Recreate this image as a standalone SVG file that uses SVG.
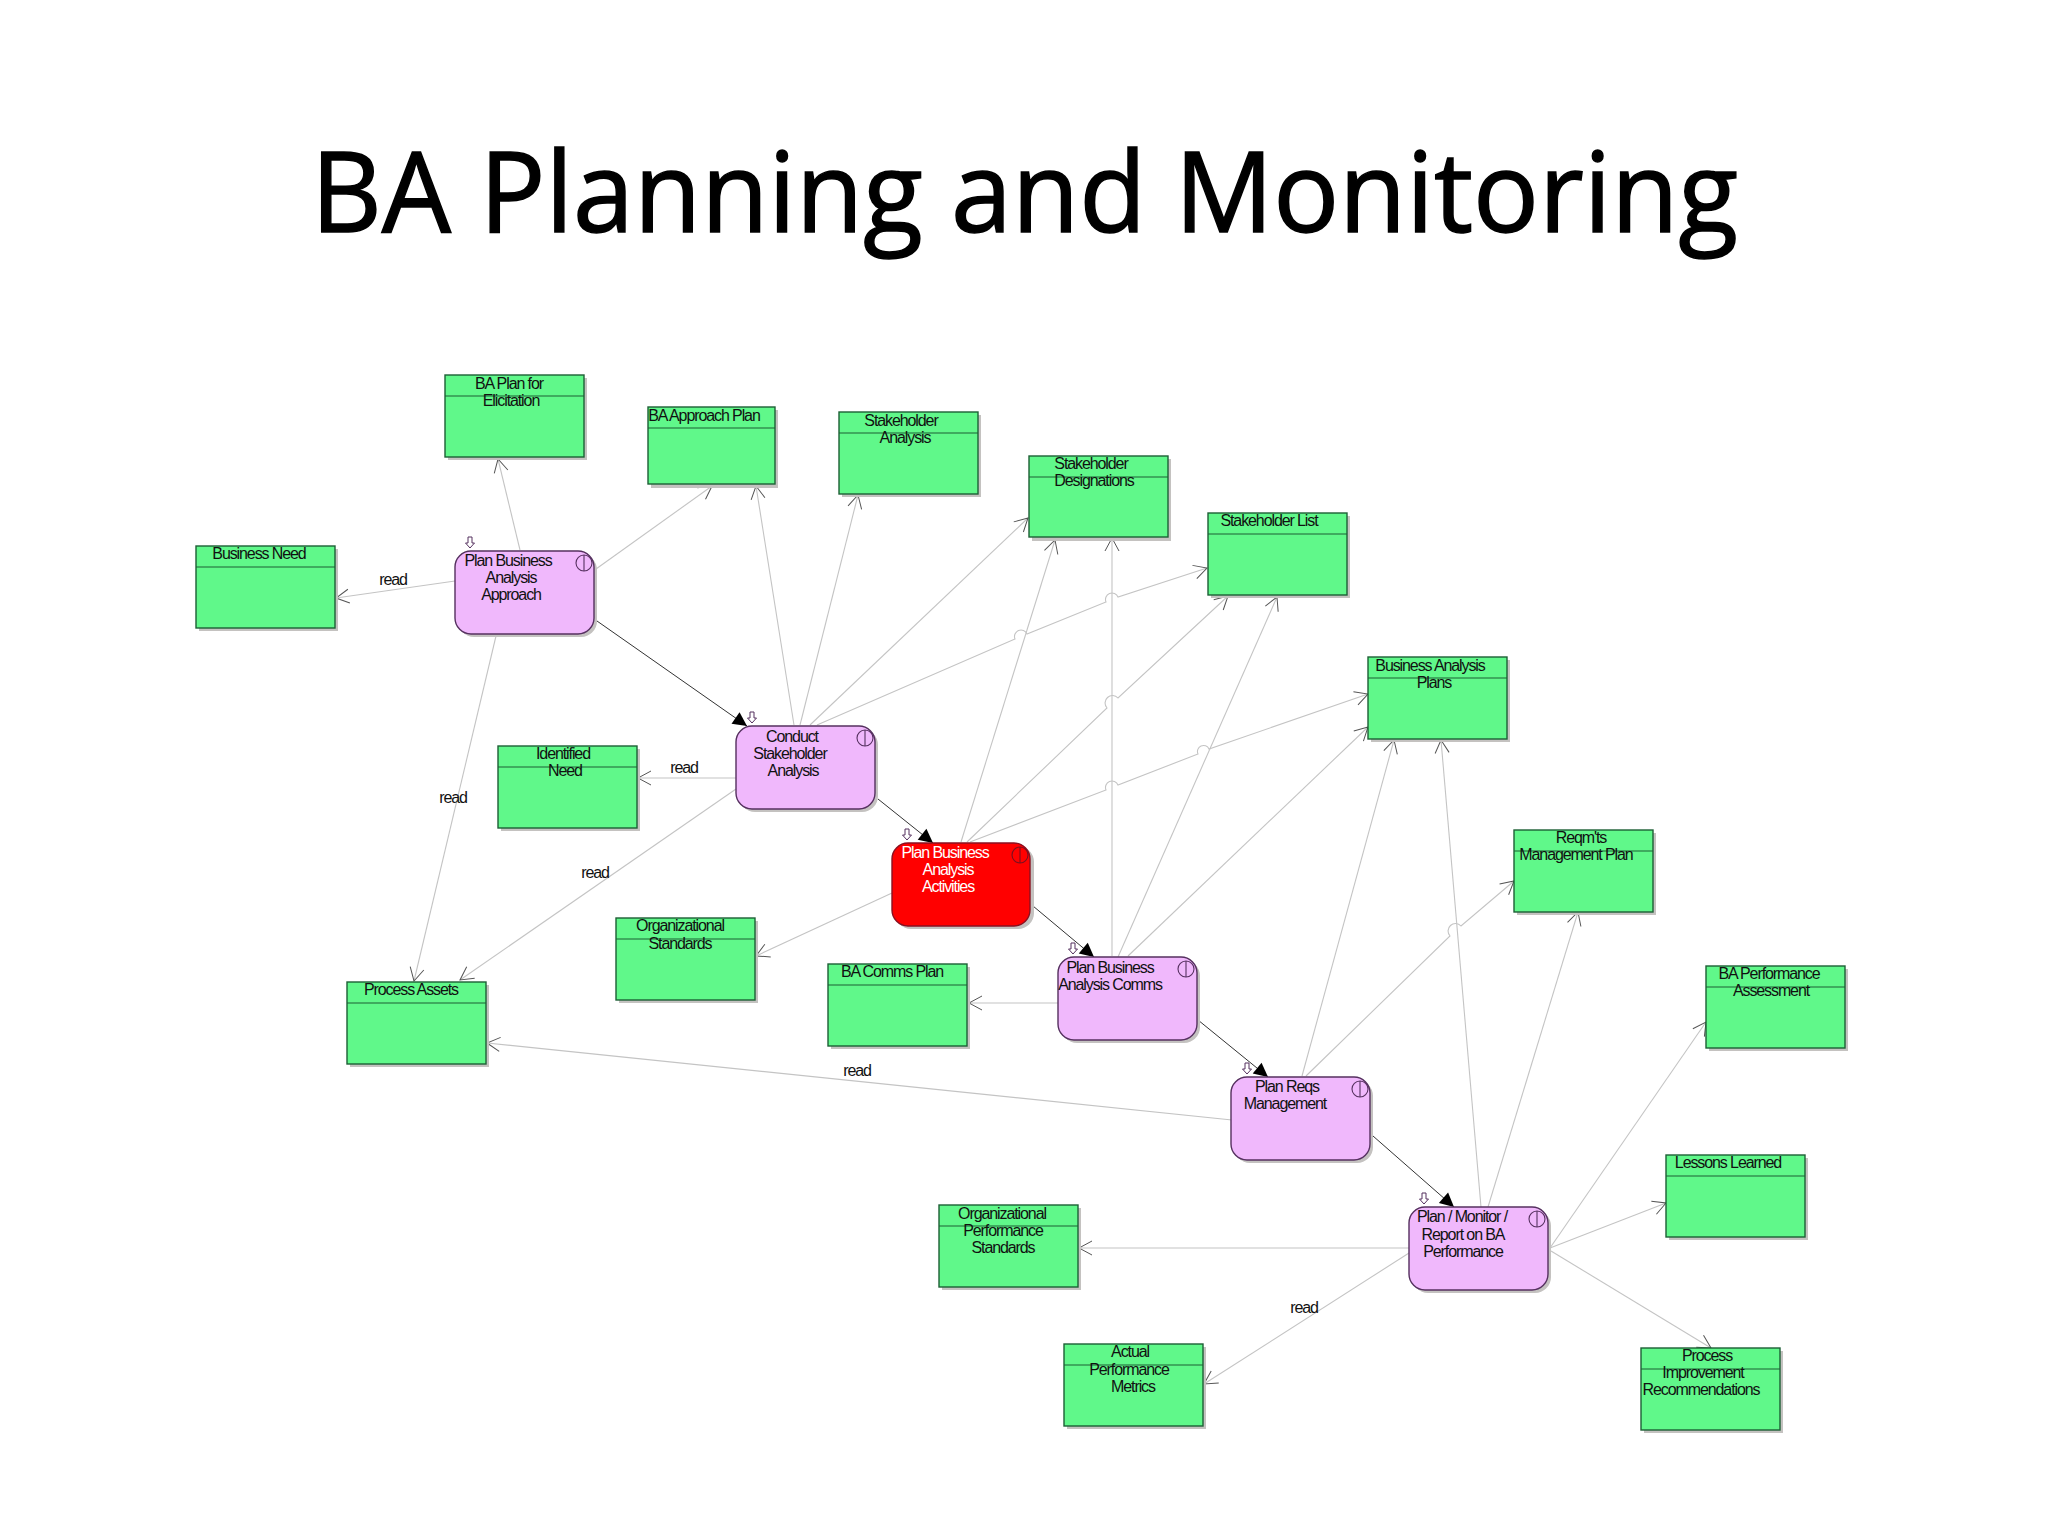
<svg xmlns="http://www.w3.org/2000/svg" width="2048" height="1536" viewBox="0 0 2048 1536">
<style>
text{font-family:"Liberation Sans",Arial,sans-serif;font-size:16px;letter-spacing:-1.1px;text-anchor:middle;fill:#111}
.title{font-family:"Open Sans","Noto Sans",sans-serif;font-size:111px;letter-spacing:0;text-anchor:start;fill:#000;stroke:#000;stroke-width:1.5}
.g rect.b{fill:#60f88a;stroke:#1d5f35;stroke-width:1.4}
.g line{stroke:#1d5f35;stroke-width:1.1}
.s{fill:#c4c2c0}
.p rect.b{fill:#f0b8fc;stroke:#55305f;stroke-width:1.4}
.r rect.b{fill:#ff0000;stroke:#8a1020;stroke-width:1.4}
.r text{fill:#fff}
.i{fill:none;stroke:#55305f;stroke-width:1.1}
.r .i{stroke:#7a1020}
#connectors path{fill:none}
.c{stroke:#c4c4c4;stroke-width:1.1;marker-end:url(#o)}
.k{stroke:#333;stroke-width:1;marker-end:url(#f)}
</style>
<defs>
<marker id="o" markerUnits="userSpaceOnUse" markerWidth="18" markerHeight="20" refX="15" refY="10" orient="auto"><path d="M2 3 L15 10 L2 17" fill="none" stroke="#555" stroke-width="1"/></marker>
<marker id="f" markerUnits="userSpaceOnUse" markerWidth="18" markerHeight="16" refX="15" refY="8" orient="auto"><path d="M1 1 L15 8 L1 15 Z" fill="#000"/></marker>
<symbol id="d" overflow="visible"><path d="M-2 -6 H2 V0 H4.5 L0 5 L-4.5 0 H-2 Z" fill="#fff" stroke="#55305f" stroke-width="1"/></symbol>
</defs>
<rect width="2048" height="1536" fill="#fff"/>
<text class="title" x="311" y="232" textLength="1427" lengthAdjust="spacingAndGlyphs">BA Planning and Monitoring</text>

<g id="connectors">
<path class="c" d="M520 550 L498 459"/>
<path class="c" d="M596 569 L712 486"/>
<path class="c" d="M455 581 L336 598"/>
<path class="c" d="M496 636 L414 981"/>
<path class="k" d="M597 621 L747 726"/>
<path class="c" d="M794 725 L756 486"/>
<path class="c" d="M800 725 L858 495"/>
<path class="c" d="M810 725 L1028 518"/>
<path class="c" d="M817 725 L1015 639 A6 6 0 0 1 1027 634 L1106 602 A6 6 0 0 1 1118 597 L1207 568"/>
<path class="c" d="M736 778 L638 778"/>
<path class="c" d="M736 789 L460 980"/>
<path class="k" d="M878 799 L933 843"/>
<path class="c" d="M961 842 L1055 540"/>
<path class="c" d="M967 842 L1107 708 A6 6 0 0 1 1118 698 L1228 596"/>
<path class="c" d="M970 842 L1106 790 A6 6 0 0 1 1118 785 L1198 754 A6 6 0 0 1 1209 749 L1368 694"/>
<path class="c" d="M892 893 L756 956"/>
<path class="k" d="M1033 906 L1094 957"/>
<path class="c" d="M1112 956 L1112 538"/>
<path class="c" d="M1118 957 L1277 597"/>
<path class="c" d="M1128 956 L1368 727"/>
<path class="c" d="M1058 1003 L969 1003"/>
<path class="k" d="M1198 1020 L1268 1077"/>
<path class="c" d="M1302 1076 L1394 740"/>
<path class="c" d="M1306 1076 L1450 936 A6 6 0 0 1 1461 926 L1514 881"/>
<path class="c" d="M1232 1120 L487 1043"/>
<path class="k" d="M1373 1136 L1454 1207"/>
<path class="c" d="M1481 1207 L1441 740"/>
<path class="c" d="M1488 1207 L1578 912"/>
<path class="c" d="M1550 1248 L1706 1022"/>
<path class="c" d="M1550 1248 L1666 1203"/>
<path class="c" d="M1551 1251 L1711 1348"/>
<path class="c" d="M1409 1248 L1079 1248"/>
<path class="c" d="M1409 1253 L1204 1384"/>
</g>

<g id="labels">
<text x="393" y="585">read</text>
<text x="453" y="803">read</text>
<text x="684" y="773">read</text>
<text x="595" y="878">read</text>
<text x="857" y="1076">read</text>
<text x="1304" y="1313">read</text>
</g>

<g id="ba-plan-elicitation" class="g"><rect class="s" x="448" y="378" width="139" height="82"/><rect class="b" x="445" y="375" width="139" height="82"/><line x1="445" y1="396" x2="584" y2="396"/><text x="509" y="389">BA Plan for</text><text x="511" y="406">Elicitation</text></g>
<g id="ba-approach-plan" class="g"><rect class="s" x="651" y="410" width="127" height="78"/><rect class="b" x="648" y="407" width="127" height="77"/><line x1="648" y1="428" x2="775" y2="428"/><text x="704" y="421">BA Approach Plan</text></g>
<g id="stakeholder-analysis" class="g"><rect class="s" x="842" y="415" width="139" height="82"/><rect class="b" x="839" y="412" width="139" height="82"/><line x1="839" y1="433" x2="978" y2="433"/><text x="901" y="426">Stakeholder</text><text x="905" y="443">Analysis</text></g>
<g id="stakeholder-designations" class="g"><rect class="s" x="1032" y="459" width="139" height="82"/><rect class="b" x="1029" y="456" width="139" height="81"/><line x1="1029" y1="477" x2="1168" y2="477"/><text x="1091" y="469">Stakeholder</text><text x="1094" y="486">Designations</text></g>
<g id="stakeholder-list" class="g"><rect class="s" x="1211" y="516" width="139" height="82"/><rect class="b" x="1208" y="513" width="139" height="82"/><line x1="1208" y1="534" x2="1347" y2="534"/><text x="1269" y="526">Stakeholder List</text></g>
<g id="business-analysis-plans" class="g"><rect class="s" x="1371" y="660" width="139" height="82"/><rect class="b" x="1368" y="657" width="139" height="82"/><line x1="1368" y1="678" x2="1507" y2="678"/><text x="1430" y="671">Business Analysis</text><text x="1434" y="688">Plans</text></g>
<g id="reqmts-plan" class="g"><rect class="s" x="1517" y="833" width="139" height="82"/><rect class="b" x="1514" y="830" width="139" height="82"/><line x1="1514" y1="851" x2="1653" y2="851"/><text x="1581" y="843">Reqm'ts</text><text x="1576" y="860">Management Plan</text></g>
<g id="ba-performance" class="g"><rect class="s" x="1709" y="969" width="139" height="82"/><rect class="b" x="1706" y="966" width="139" height="82"/><line x1="1706" y1="987" x2="1845" y2="987"/><text x="1769" y="979">BA Performance</text><text x="1771" y="996">Assessment</text></g>
<g id="lessons-learned" class="g"><rect class="s" x="1669" y="1158" width="139" height="82"/><rect class="b" x="1666" y="1155" width="139" height="82"/><line x1="1666" y1="1176" x2="1805" y2="1176"/><text x="1728" y="1168">Lessons Learned</text></g>
<g id="process-improvement" class="g"><rect class="s" x="1644" y="1351" width="139" height="82"/><rect class="b" x="1641" y="1348" width="139" height="82"/><line x1="1641" y1="1369" x2="1780" y2="1369"/><text x="1707" y="1361">Process</text><text x="1703" y="1378">Improvement</text><text x="1701" y="1395">Recommendations</text></g>
<g id="actual-metrics" class="g"><rect class="s" x="1067" y="1347" width="139" height="82"/><rect class="b" x="1064" y="1344" width="139" height="82"/><line x1="1064" y1="1365" x2="1203" y2="1365"/><text x="1130" y="1357">Actual</text><text x="1129" y="1375">Performance</text><text x="1133" y="1392">Metrics</text></g>
<g id="org-performance" class="g"><rect class="s" x="942" y="1208" width="139" height="82"/><rect class="b" x="939" y="1205" width="139" height="82"/><line x1="939" y1="1226" x2="1078" y2="1226"/><text x="1002" y="1219">Organizational</text><text x="1003" y="1236">Performance</text><text x="1003" y="1253">Standards</text></g>
<g id="ba-comms-plan" class="g"><rect class="s" x="831" y="967" width="139" height="82"/><rect class="b" x="828" y="964" width="139" height="82"/><line x1="828" y1="985" x2="967" y2="985"/><text x="892" y="977">BA Comms Plan</text></g>
<g id="org-standards" class="g"><rect class="s" x="619" y="921" width="139" height="82"/><rect class="b" x="616" y="918" width="139" height="82"/><line x1="616" y1="939" x2="755" y2="939"/><text x="680" y="931">Organizational</text><text x="680" y="949">Standards</text></g>
<g id="process-assets" class="g"><rect class="s" x="350" y="985" width="139" height="82"/><rect class="b" x="347" y="982" width="139" height="82"/><line x1="347" y1="1003" x2="486" y2="1003"/><text x="411" y="995">Process Assets</text></g>
<g id="identified-need" class="g"><rect class="s" x="501" y="749" width="139" height="82"/><rect class="b" x="498" y="746" width="139" height="82"/><line x1="498" y1="767" x2="637" y2="767"/><text x="563" y="759">Identified</text><text x="565" y="776">Need</text></g>
<g id="business-need" class="g"><rect class="s" x="199" y="549" width="139" height="82"/><rect class="b" x="196" y="546" width="139" height="82"/><line x1="196" y1="567" x2="335" y2="567"/><text x="259" y="559">Business Need</text></g>

<g id="plan-ba-approach" class="p"><rect class="s" x="458" y="554" width="139" height="83" rx="16"/><rect class="b" x="455" y="551" width="139" height="83" rx="16"/><use href="#d" x="470" y="543"/><circle class="i" cx="584" cy="563" r="8"/><line class="i" x1="584" y1="555" x2="584" y2="571"/><text x="508" y="566">Plan Business</text><text x="511" y="583">Analysis</text><text x="511" y="600">Approach</text></g>
<g id="conduct-stakeholder" class="p"><rect class="s" x="739" y="729" width="139" height="83" rx="16"/><rect class="b" x="736" y="726" width="139" height="83" rx="16"/><use href="#d" x="752" y="718"/><circle class="i" cx="865" cy="738" r="8"/><line class="i" x1="865" y1="730" x2="865" y2="746"/><text x="792" y="742">Conduct</text><text x="790" y="759">Stakeholder</text><text x="793" y="776">Analysis</text></g>
<g id="plan-ba-activities" class="r"><rect class="s" x="895" y="846" width="139" height="83" rx="16"/><rect class="b" x="892" y="843" width="138" height="83" rx="16"/><use href="#d" x="907" y="835"/><circle class="i" cx="1020" cy="855" r="8"/><line class="i" x1="1020" y1="847" x2="1020" y2="863"/><text x="945" y="858">Plan Business</text><text x="948" y="875">Analysis</text><text x="948" y="892">Activities</text></g>
<g id="plan-ba-comms" class="p"><rect class="s" x="1061" y="960" width="139" height="83" rx="16"/><rect class="b" x="1058" y="957" width="139" height="83" rx="16"/><use href="#d" x="1073" y="949"/><circle class="i" cx="1186" cy="969" r="8"/><line class="i" x1="1186" y1="961" x2="1186" y2="977"/><text x="1110" y="973">Plan Business</text><text x="1110" y="990">Analysis Comms</text></g>
<g id="plan-reqs" class="p"><rect class="s" x="1234" y="1080" width="139" height="83" rx="16"/><rect class="b" x="1231" y="1077" width="139" height="83" rx="16"/><use href="#d" x="1247" y="1069"/><circle class="i" cx="1360" cy="1089" r="8"/><line class="i" x1="1360" y1="1081" x2="1360" y2="1097"/><text x="1287" y="1092">Plan Reqs</text><text x="1285" y="1109">Management</text></g>
<g id="plan-monitor" class="p"><rect class="s" x="1412" y="1210" width="139" height="83" rx="16"/><rect class="b" x="1409" y="1207" width="139" height="83" rx="16"/><use href="#d" x="1424" y="1199"/><circle class="i" cx="1537" cy="1219" r="8"/><line class="i" x1="1537" y1="1211" x2="1537" y2="1227"/><text x="1462" y="1222">Plan / Monitor /</text><text x="1463" y="1240">Report on BA</text><text x="1463" y="1257">Performance</text></g>
</svg>
